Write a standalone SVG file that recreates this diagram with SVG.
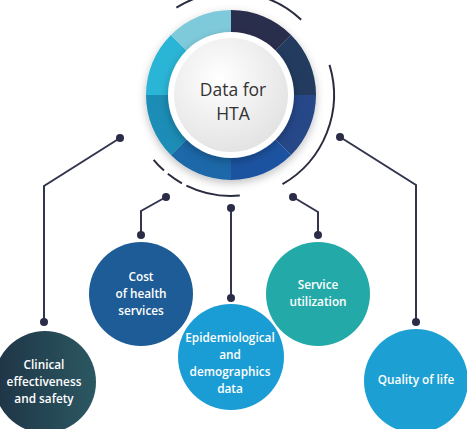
<svg xmlns="http://www.w3.org/2000/svg" width="467" height="429" viewBox="0 0 467 429">
<defs>
<style>
.lbl{font-family:"Open Sans","Liberation Sans",sans-serif;font-weight:600;font-size:11.8px;fill:#fff;text-anchor:middle}
.ctr{font-family:"Open Sans","Liberation Sans",sans-serif;font-size:17.5px;fill:#333;text-anchor:middle}
.wire{fill:none;stroke:#33354f;stroke-width:2}
.dot{fill:#2a2c48}
.arc{fill:none;stroke:#2a2c3f;stroke-width:2}
</style>
<radialGradient id="disc" cx="0.4" cy="0.35" r="0.7">
<stop offset="0" stop-color="#ffffff"/>
<stop offset="1" stop-color="#e2e2e2"/>
</radialGradient>
<linearGradient id="clin" x1="0" y1="0" x2="1" y2="0">
<stop offset="0" stop-color="#1f3446"/>
<stop offset="1" stop-color="#2b5862"/>
</linearGradient>
<filter id="sh" x="-20%" y="-20%" width="140%" height="140%">
<feDropShadow dx="0" dy="3" stdDeviation="4" flood-color="#000" flood-opacity="0.25"/>
</filter>
</defs>
<g id="hub">
<g filter="url(#sh)">
<path d="M231,10 A85,85 0 0 1 291.10,34.90 L274.84,51.16 A62,62 0 0 0 231,33 Z" fill="#2b2e4d"/>
<path d="M291.10,34.90 A85,85 0 0 1 316,95 L293,95 A62,62 0 0 0 274.84,51.16 Z" fill="#213a5e"/>
<path d="M316,95 A85,85 0 0 1 291.10,155.10 L274.84,138.84 A62,62 0 0 0 293,95 Z" fill="#274688"/>
<path d="M291.10,155.10 A85,85 0 0 1 231,180 L231,157 A62,62 0 0 0 274.84,138.84 Z" fill="#1f52a0"/>
<path d="M231,180 A85,85 0 0 1 170.90,155.10 L187.16,138.84 A62,62 0 0 0 231,157 Z" fill="#1b68a8"/>
<path d="M170.90,155.10 A85,85 0 0 1 146,95 L169,95 A62,62 0 0 0 187.16,138.84 Z" fill="#1a8db6"/>
<path d="M146,95 A85,85 0 0 1 170.90,34.90 L187.16,51.16 A62,62 0 0 0 169,95 Z" fill="#2cb5d6"/>
<path d="M170.90,34.90 A85,85 0 0 1 231,10 L231,33 A62,62 0 0 0 187.16,51.16 Z" fill="#7ecadb"/>
</g>
<circle cx="231" cy="95" r="63" fill="#ffffff" filter="url(#sh)"/>
<circle cx="231" cy="95" r="57" fill="url(#disc)"/>
<text class="ctr" x="233" y="96">Data for</text>
<text class="ctr" x="233" y="120">HTA</text>
<path class="arc" d="M176.4,7.7 A103,103 0 0 1 301.2,19.7"/>
<path class="arc" d="M329.5,64.9 A103,103 0 0 1 282.5,184.2"/>
<path class="arc" d="M239.8,195.6 A101,101 0 0 1 153.6,159.9" stroke-dasharray="55 5 17 5 15"/>
</g>
<g id="connectors">
<polyline class="wire" points="120,138 44,186 44,322"/>
<circle class="dot" cx="120" cy="138" r="4"/>
<circle class="dot" cx="44" cy="322" r="4"/>
<polyline class="wire" points="166,197 141,211 141,235"/>
<circle class="dot" cx="166" cy="197" r="4"/>
<circle class="dot" cx="141" cy="235" r="4"/>
<line class="wire" x1="231" y1="208" x2="231" y2="298"/>
<circle class="dot" cx="231" cy="208" r="4"/>
<circle class="dot" cx="231" cy="298" r="4"/>
<polyline class="wire" points="293,197 318,212 318,235"/>
<circle class="dot" cx="293" cy="197" r="4"/>
<circle class="dot" cx="318" cy="235" r="4"/>
<polyline class="wire" points="340,137 416,185 416,322"/>
<circle class="dot" cx="340" cy="137" r="4"/>
<circle class="dot" cx="416" cy="322" r="4"/>
</g>
<g id="clinical">
<circle cx="45" cy="382" r="51" fill="url(#clin)"/>
<text class="lbl" x="44" y="369">Clinical</text>
<text class="lbl" x="44" y="386">effectiveness</text>
<text class="lbl" x="44" y="403">and safety</text>
</g>
<g id="cost">
<circle cx="141" cy="294" r="52" fill="#1d5c96"/>
<text class="lbl" x="141" y="281">Cost</text>
<text class="lbl" x="141" y="298">of health</text>
<text class="lbl" x="141" y="315">services</text>
</g>
<g id="epi">
<circle cx="231" cy="357" r="53" fill="#1a9dd4"/>
<text class="lbl" x="230" y="342">Epidemiological</text>
<text class="lbl" x="230" y="359">and</text>
<text class="lbl" x="230" y="376">demographics</text>
<text class="lbl" x="230" y="393">data</text>
</g>
<g id="service">
<circle cx="318" cy="294" r="52" fill="#23aaa8"/>
<text class="lbl" x="318" y="289">Service</text>
<text class="lbl" x="318" y="306">utilization</text>
</g>
<g id="quality">
<circle cx="416" cy="381" r="52" fill="#1c9fd2"/>
<text class="lbl" x="416" y="384">Quality of life</text>
</g>
</svg>
